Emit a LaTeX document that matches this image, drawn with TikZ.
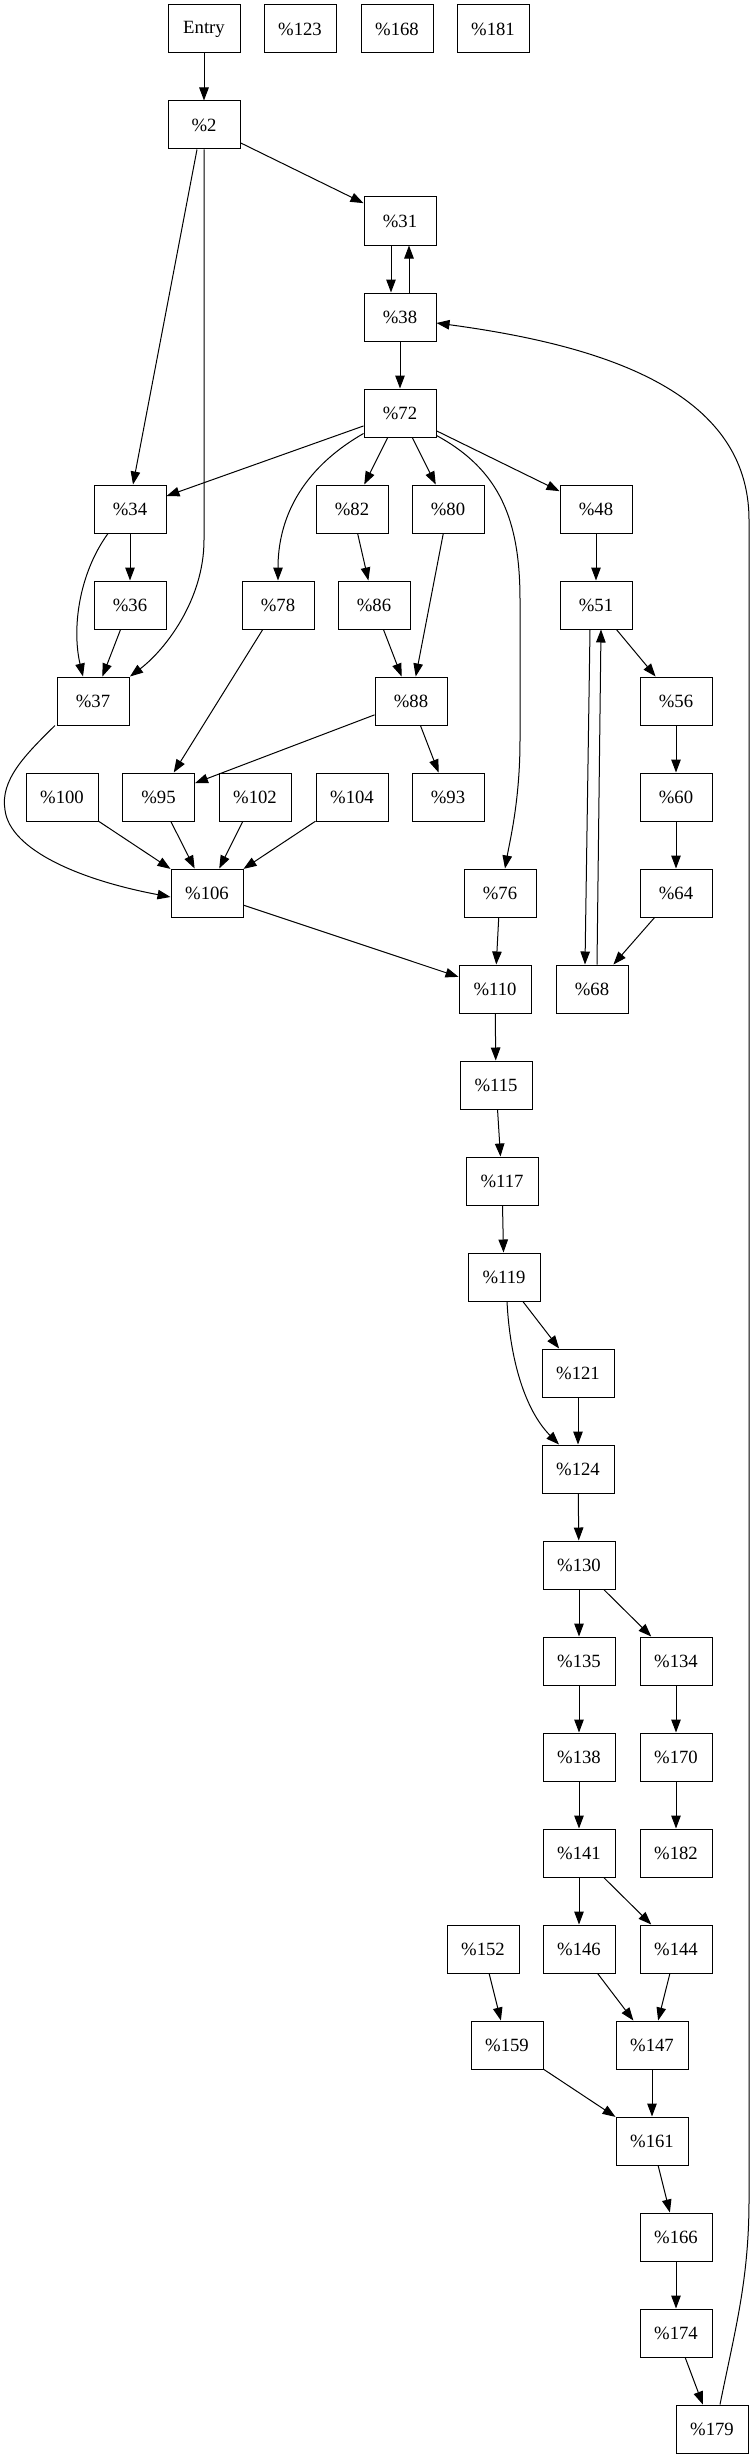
\documentclass[tikz,border=0pt]{standalone}
\usepackage{fontspec}
\setmainfont{Liberation Serif}
\usetikzlibrary{arrows.meta}
\begin{document}
\begin{tikzpicture}[x=1pt,y=-1pt,
  blk/.style={draw,line width=1pt,rectangle,minimum width=72pt,minimum height=48pt,inner sep=0pt,font=\fontsize{18.7}{20}\selectfont},
  edge/.style={line width=1pt,-{Triangle[length=13pt,width=9.5pt]}}]
\useasboundingbox (0,0) rectangle (751,2459);
% nodes
\node[blk] (entry) at (204,29) {Entry};
\node[blk] (n123) at (300,29) {\%123};
\node[blk] (n168) at (397,29) {\%168};
\node[blk] (n181) at (493,29) {\%181};
\node[blk] (n2) at (204,125) {\%2};
\node[blk] (n31) at (400,221) {\%31};
\node[blk] (n38) at (400,317) {\%38};
\node[blk] (n72) at (400,413) {\%72};
\node[blk] (n34) at (130,509) {\%34};
\node[blk] (n82) at (352,509) {\%82};
\node[blk] (n80) at (448,509) {\%80};
\node[blk] (n48) at (596,509) {\%48};
\node[blk] (n36) at (130,605) {\%36};
\node[blk] (n78) at (278,605) {\%78};
\node[blk] (n86) at (374,605) {\%86};
\node[blk] (n51) at (596,605) {\%51};
\node[blk] (n37) at (93,701) {\%37};
\node[blk] (n88) at (411,701) {\%88};
\node[blk] (n56) at (676,701) {\%56};
\node[blk] (n100) at (62,797) {\%100};
\node[blk] (n95) at (158.5,797) {\%95};
\node[blk] (n102) at (255,797) {\%102};
\node[blk] (n104) at (352,797) {\%104};
\node[blk] (n93) at (448,797) {\%93};
\node[blk] (n60) at (676,797) {\%60};
\node[blk] (n106) at (207,893) {\%106};
\node[blk] (n76) at (500,893) {\%76};
\node[blk] (n64) at (676,893) {\%64};
\node[blk] (n110) at (495,989) {\%110};
\node[blk] (n68) at (592,989) {\%68};
\node[blk] (n115) at (496,1085) {\%115};
\node[blk] (n117) at (502,1181) {\%117};
\node[blk] (n119) at (504,1277) {\%119};
\node[blk] (n121) at (578,1373) {\%121};
\node[blk] (n124) at (578,1469) {\%124};
\node[blk] (n130) at (579,1565) {\%130};
\node[blk] (n135) at (579,1661) {\%135};
\node[blk] (n134) at (676,1661) {\%134};
\node[blk] (n138) at (579,1757) {\%138};
\node[blk] (n170) at (676,1757) {\%170};
\node[blk] (n141) at (579,1853) {\%141};
\node[blk] (n182) at (676,1853) {\%182};
\node[blk] (n152) at (483,1949) {\%152};
\node[blk] (n146) at (579,1949) {\%146};
\node[blk] (n144) at (676,1949) {\%144};
\node[blk] (n159) at (507,2045) {\%159};
\node[blk] (n147) at (652,2045) {\%147};
\node[blk] (n161) at (652,2141) {\%161};
\node[blk] (n166) at (676,2237) {\%166};
\node[blk] (n174) at (676,2333) {\%174};
\node[blk] (n179) at (712,2429) {\%179};
% edges
\draw[edge] (entry) -- (n2);
\draw[edge] (n2) -- (n31);
\draw[edge] ([xshift=-7pt]n2.south) -- ([xshift=3pt]n34.north);
\draw[edge] (n2.south) -- (204,540) .. controls (204,600) and (165,650) .. ([xshift=37pt]n37.north);
\draw[edge] ([xshift=-9pt]n31.south) -- ([xshift=-9pt]n38.north);
\draw[edge] ([xshift=9pt]n38.north) -- ([xshift=9pt]n31.south);
\draw[edge] (n38) -- (n72);
\draw[edge] ([xshift=8pt]n179.north) .. controls (735,2330) and (749,2280) .. (749,2200) -- (749,520) .. controls (749,390) and (600,345) .. ([yshift=-6pt]n38.east);
\draw[edge] (n72) -- (n34);
\draw[edge] ([yshift=4pt]n72.south west) .. controls (300,470) and (278,520) .. (n78.north);
\draw[edge] (n72) -- (n82);
\draw[edge] (n72) -- (n80);
\draw[edge] ([yshift=2pt]n72.south east) .. controls (500,470) and (520,520) .. (520,600) -- (520,740) .. controls (520,800) and (510,840) .. ([xshift=5pt]n76.north);
\draw[edge] (n72) -- (n48);
\draw[edge] (n34) -- (n36);
\draw[edge] ([xshift=-22pt]n34.south) .. controls (78,575) and (72,630) .. ([xshift=-10pt]n37.north);
\draw[edge] (n36) -- (n37);
\draw[edge] (n82) -- (n86);
\draw[edge] (n86) -- (n88);
\draw[edge] (n80) -- (n88);
\draw[edge] (n78) -- (n95);
\draw[edge] (n88) -- (n95);
\draw[edge] (n88) -- (n93);
\draw[edge] (n48) -- (n51);
\draw[edge] (n51) -- (n56);
\draw[edge] ([xshift=-6pt]n51.south) -- ([xshift=-7pt]n68.north);
\draw[edge] ([xshift=5pt]n68.north) -- ([xshift=5pt]n51.south);
\draw[edge] (n56) -- (n60);
\draw[edge] (n60) -- (n64);
\draw[edge] (n64) -- (n68);
\draw[edge] ([xshift=-38pt]n37.south) .. controls (25,755) and (0,780) .. (5,810) .. controls (10,850) and (80,880) .. ([yshift=-4pt]n106.west);
\draw[edge] (n100) -- (n106);
\draw[edge] (n95) -- (n106);
\draw[edge] (n102) -- (n106);
\draw[edge] (n104) -- (n106);
\draw[edge] (n106) -- (n110);
\draw[edge] (n76) -- (n110);
\draw[edge] (n110) -- (n115);
\draw[edge] (n115) -- (n117);
\draw[edge] (n117) -- (n119);
\draw[edge] (n119) -- (n121);
\draw[edge] ([xshift=3pt]n119.south) .. controls (510,1360) and (525,1410) .. ([xshift=-19pt]n124.north);
\draw[edge] (n121) -- (n124);
\draw[edge] (n124) -- (n130);
\draw[edge] (n130) -- (n135);
\draw[edge] (n130) -- (n134);
\draw[edge] (n135) -- (n138);
\draw[edge] (n138) -- (n141);
\draw[edge] (n134) -- (n170);
\draw[edge] (n170) -- (n182);
\draw[edge] (n141) -- (n146);
\draw[edge] (n141) -- (n144);
\draw[edge] (n152) -- (n159);
\draw[edge] (n146) -- (n147);
\draw[edge] (n144) -- (n147);
\draw[edge] (n159) -- (n161);
\draw[edge] (n147) -- (n161);
\draw[edge] (n161) -- (n166);
\draw[edge] (n166) -- (n174);
\draw[edge] (n174) -- (n179);
\end{tikzpicture}
\end{document}
